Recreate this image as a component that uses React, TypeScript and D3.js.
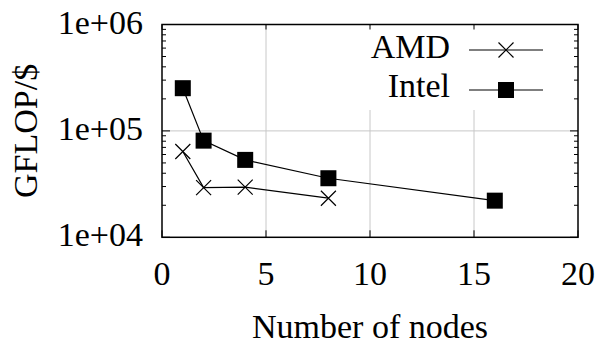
import React from "react";
import * as d3 from "d3";

const amdNodes = [1, 2, 4, 8];
const amdValues = [64000, 29300, 29600, 23300];
const intelNodes = [1, 2, 4, 8, 16];
const intelValues = [252000, 81000, 53400, 35900, 22100];
const xTicks = [0, 5, 10, 15, 20];
const yTicks = [1e4, 1e5, 1e6];
const yTickLabels = ["1e+04", "1e+05", "1e+06"];

const W = 603, H = 347;
const L = 162, R = 578, T = 24.5, B = 237.3;
const FONT = "'Liberation Serif', 'Times New Roman', serif";
const FS = 34;

export default function App() {
  const x = d3.scaleLinear().domain([0, 20]).range([L, R]);
  const y = d3.scaleLog().domain([1e4, 1e6]).range([B, T]);
  const line = d3.line<[number, number]>().x(d => x(d[0])).y(d => y(d[1]));
  const amd: [number, number][] = amdNodes.map((n, i) => [n, amdValues[i]]);
  const intel: [number, number][] = intelNodes.map((n, i) => [n, intelValues[i]]);
  const minors: number[] = [];
  for (const dec of [1e4, 1e5]) for (let k = 2; k <= 9; k++) minors.push(dec * k);
  const ms = 7.5;
  const cross = (cx: number, cy: number, key: string) => (
    <path key={key} d={`M${cx - ms},${cy - ms}L${cx + ms},${cy + ms}M${cx - ms},${cy + ms}L${cx + ms},${cy - ms}`} stroke="#000" strokeWidth={1.2} fill="none" />
  );
  const sq = (cx: number, cy: number, key: string) => (
    <rect key={key} x={cx - 8} y={cy - 8} width={16} height={16} fill="#000" />
  );
  return (
    <svg width={W} height={H} style={{ position: "absolute", left: 0, top: 0, background: "#fff" }}>
      <rect x={0} y={0} width={W} height={H} fill="#fff" />
      {xTicks.slice(1, -1).map(t => (
        <line key={"gx" + t} x1={x(t)} x2={x(t)} y1={T} y2={B} stroke="#c8c8c8" strokeWidth={1} />
      ))}
      <line x1={L} x2={R} y1={y(1e5)} y2={y(1e5)} stroke="#c8c8c8" strokeWidth={1} />
      <rect x={300} y={T + 1} width={R - 301} height={110 - T - 1} fill="#fff" />
      {minors.map(v => (
        <g key={"m" + v}>
          <line x1={L} x2={L + 4} y1={y(v)} y2={y(v)} stroke="#000" strokeWidth={1} />
          <line x1={R} x2={R - 4} y1={y(v)} y2={y(v)} stroke="#000" strokeWidth={1} />
        </g>
      ))}
      {yTicks.map(v => (
        <g key={"yt" + v}>
          <line x1={L} x2={L + 8} y1={y(v)} y2={y(v)} stroke="#000" strokeWidth={1} />
          <line x1={R} x2={R - 8} y1={y(v)} y2={y(v)} stroke="#000" strokeWidth={1} />
        </g>
      ))}
      {xTicks.map(t => (
        <g key={"xt" + t}>
          <line x1={x(t)} x2={x(t)} y1={B} y2={B - 7} stroke="#000" strokeWidth={1} />
          <line x1={x(t)} x2={x(t)} y1={T} y2={T + 5} stroke="#000" strokeWidth={1} />
        </g>
      ))}
      <rect x={L} y={T} width={R - L} height={B - T} fill="none" stroke="#000" strokeWidth={1.5} />
      {yTicks.map((v, i) => (
        <text key={"yl" + v} x={143} y={y(v) + 9} textAnchor="end" fontFamily={FONT} fontSize={FS}>{yTickLabels[i]}</text>
      ))}
      {xTicks.map(t => (
        <text key={"xl" + t} x={x(t)} y={285} textAnchor="middle" fontFamily={FONT} fontSize={FS}>{t}</text>
      ))}
      <text x={(L + R) / 2} y={338} textAnchor="middle" fontFamily={FONT} fontSize={FS}>Number of nodes</text>
      <text transform={`translate(37,${(T + B) / 2}) rotate(-90)`} textAnchor="middle" fontFamily={FONT} fontSize={FS}>GFLOP/$</text>
      <path d={line(amd) || ""} fill="none" stroke="#000" strokeWidth={1.2} />
      {amd.map((d, i) => cross(x(d[0]), y(d[1]), "a" + i))}
      <path d={line(intel) || ""} fill="none" stroke="#000" strokeWidth={1.2} />
      {intel.map((d, i) => sq(x(d[0]), y(d[1]), "i" + i))}
      <text x={450} y={57.7} textAnchor="end" fontFamily={FONT} fontSize={FS}>AMD</text>
      <line x1={469} x2={543} y1={50} y2={50} stroke="#000" strokeWidth={1.2} />
      {cross(506, 50, "la")}
      <text x={450} y={97.3} textAnchor="end" fontFamily={FONT} fontSize={FS}>Intel</text>
      <line x1={469} x2={543} y1={90} y2={90} stroke="#000" strokeWidth={1.2} />
      {sq(506, 90, "li")}
    </svg>
  );
}
